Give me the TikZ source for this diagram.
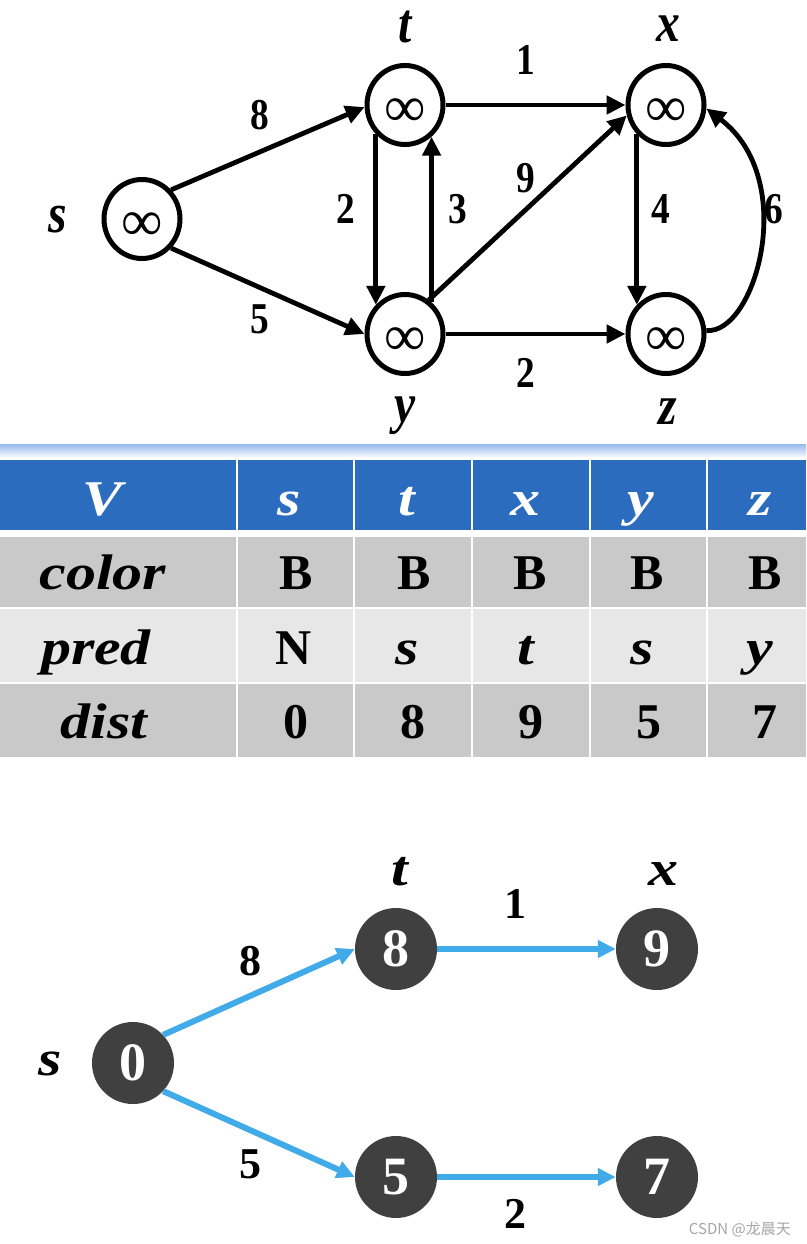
\documentclass[tikz,border=0pt]{standalone}
\usepackage{fontspec}
\setmainfont{Liberation Serif}
\newfontfamily\narrowserif[FakeStretch=0.85]{Liberation Serif}
\newfontfamily\wideserif[FakeStretch=1.2]{Liberation Serif}
\newfontfamily\cjkfont{Noto Sans CJK SC}
\usetikzlibrary{arrows.meta,shapes.geometric}
\definecolor{hdrblue}{RGB}{44,108,191}
\definecolor{rowdark}{RGB}{201,201,201}
\definecolor{rowlight}{RGB}{231,231,231}
\definecolor{nodegray}{RGB}{64,64,64}
\definecolor{treeblue}{RGB}{65,171,234}
\definecolor{sepblue}{RGB}{150,185,235}
\definecolor{markgray}{RGB}{165,165,165}
\tikzset{
  vtx/.style={ellipse, draw=black, line width=5pt, minimum width=76pt, minimum height=79pt,
    inner sep=0pt, fill=white},
  inflab/.style={inner sep=0pt, font=\fontsize{58}{58}\selectfont},
  vname/.style={anchor=base, inner sep=0pt, font=\narrowserif\fontsize{56}{56}\selectfont\bfseries\itshape},
  wlabel/.style={anchor=base, inner sep=0pt, font=\narrowserif\fontsize{44}{44}\selectfont\bfseries},
  arc/.style={line width=4.8pt, -{Triangle[length=19pt,width=18pt]}},
  dvtx/.style={circle, fill=nodegray, minimum size=82pt, inner sep=0pt, text=white,
    font=\fontsize{54}{54}\selectfont\bfseries},
  bname/.style={anchor=base, inner sep=0pt, font=\wideserif\fontsize{50}{50}\selectfont\bfseries\itshape},
  bwlabel/.style={anchor=base, inner sep=0pt, font=\fontsize{44}{44}\selectfont\bfseries},
  bedge/.style={line width=6pt, draw=treeblue, -{Triangle[length=18pt,width=17pt]}},
  thead/.style={anchor=base, inner sep=0pt, text=white, font=\wideserif\fontsize{50}{50}\selectfont\bfseries\itshape},
  tlab/.style={anchor=base, inner sep=0pt, font=\wideserif\fontsize{50}{50}\selectfont\bfseries\itshape},
  tval/.style={anchor=base, inner sep=0pt, font=\fontsize{50}{50}\selectfont\bfseries},
}
\begin{document}
\begin{tikzpicture}[x=1pt,y=-1pt]
\useasboundingbox (0,0) rectangle (806,1244);
\fill[white] (0,0) rectangle (806,1244);

% ---------- top graph ----------
\node[vtx] (s) at (142,219) {};
\node[vtx] (t) at (405,105) {};
\node[vtx] (x) at (666,105) {};
\node[vtx] (y) at (405,334) {};
\node[vtx] (z) at (666,334) {};
\foreach \n in {s,t,x,y,z}
  \node[inflab] (inf\n) at ([yshift=-8pt]\n.center) {∞};

\node[vname] (ls) at (58,232) {s};
\node[vname] (lt) at (405,43) {t};
\node[vname] (lx) at (668,42) {x};
\node[vname] (ly) at (405,422) {y};
\node[vname] (lz) at (668,424) {z};

\draw[arc] (s.45) -- (t.183);
\draw[arc] (s.-45) -- (y.180);
\draw[arc] (t.east) -- (x.west);
\draw[arc] (t.225) -- (y.135);
\draw[arc] (y.50) -- (t.-50);
\draw[arc] (y.55) -- (x.195);
\draw[arc] (x.225) -- (z.135);
\draw[arc] (y.east) -- (z.west);
\draw[arc] (z.5) .. controls (755,335) and (800,180) .. (x.-5);

\node[wlabel] (w8) at (260,130) {8};
\node[wlabel] (w5) at (260,333) {5};
\node[wlabel] (w1) at (526,75) {1};
\node[wlabel] (w9) at (526,192) {9};
\node[wlabel] (w2a) at (346,223) {2};
\node[wlabel] (w3) at (458,223) {3};
\node[wlabel] (w4) at (661,223) {4};
\node[wlabel] (w6) at (774,223) {6};
\node[wlabel] (w2b) at (526,387) {2};

% ---------- separator ----------
\shade[top color=sepblue, bottom color=white] (0,444) rectangle (806,458);

% ---------- table ----------
\foreach \xa/\xb in {0/236,238/353,355/471,473/589,591/706,708/806} {
  \fill[hdrblue] (\xa,460) rectangle (\xb,530);
  \fill[rowdark] (\xa,537) rectangle (\xb,607);
  \fill[rowlight] (\xa,609) rectangle (\xb,682);
  \fill[rowdark] (\xa,684) rectangle (\xb,757);
}
\node[thead] (hV) at (103,515) {V};
\node[thead] (hs) at (289,515) {s};
\node[thead] (ht) at (407,515) {t};
\node[thead] (hx) at (525,515) {x};
\node[thead] (hy) at (641,515) {y};
\node[thead] (hz) at (760,515) {z};

\node[tlab] (lcolor) at (103,589) {color};
\node[tval] (c1) at (296,589) {B};
\node[tval] (c2) at (414,589) {B};
\node[tval] (c3) at (530,589) {B};
\node[tval] (c4) at (647,589) {B};
\node[tval] (c5) at (765,589) {B};

\node[tlab] (lpred) at (96,664) {pred};
\node[tval] (p1) at (294,664) {N};
\node[tlab] (p2) at (407,664) {s};
\node[tlab] (p3) at (526,664) {t};
\node[tlab] (p4) at (642,664) {s};
\node[tlab] (p5) at (760,664) {y};

\node[tlab] (ldist) at (104,738) {dist};
\node[tval] (d1) at (296,738) {0};
\node[tval] (d2) at (413,738) {8};
\node[tval] (d3) at (531,738) {9};
\node[tval] (d4) at (649,738) {5};
\node[tval] (d5) at (765,738) {7};

% ---------- bottom tree ----------
\node[dvtx] (s0) at (133,1063) {0};
\node[dvtx] (t8) at (396,949) {8};
\node[dvtx] (x9) at (657,949) {9};
\node[dvtx] (y5) at (396,1177) {5};
\node[dvtx] (z7) at (657,1177) {7};

\draw[bedge] (s0.43) -- (t8.180);
\draw[bedge] (s0.-43) -- (y5.180);
\draw[bedge] (t8.east) -- (x9.west);
\draw[bedge] (y5.east) -- (z7.west);

\node[bname] (bs) at (50,1075) {s};
\node[bname] (bt) at (400,885) {t};
\node[bname] (bx) at (663,885) {x};

\node[bwlabel] (b8) at (250,975) {8};
\node[bwlabel] (b5) at (250,1178) {5};
\node[bwlabel] (b1) at (515,918) {1};
\node[bwlabel] (b2) at (515,1228) {2};

\node[anchor=base east, inner sep=0pt, text=markgray, font=\cjkfont\fontsize{15}{15}\selectfont] (wm) at (791,1234) {CSDN @龙晨天};
\end{tikzpicture}
\end{document}
